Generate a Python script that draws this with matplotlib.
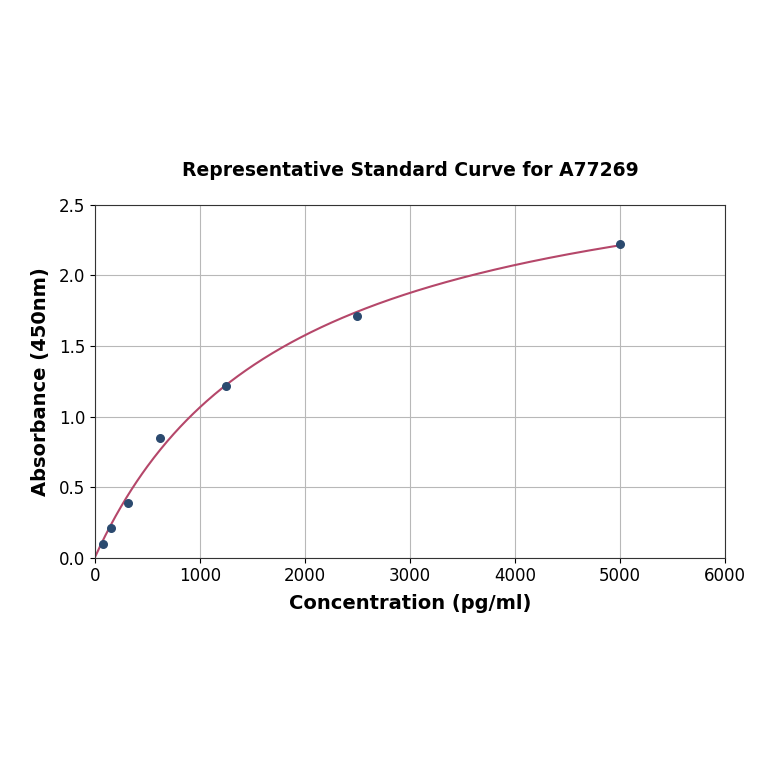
import matplotlib
matplotlib.use('Agg')
import matplotlib.pyplot as plt
import numpy as np

# standard points
conc = [78.125, 156.25, 312.5, 625, 1250, 2500, 5000]
absorb = [0.10, 0.21, 0.385, 0.85, 1.215, 1.715, 2.225]

x = np.array(conc)
y = np.array(absorb)

# fit y = a*x/(b+x): grid over b, a by least squares
best = None
for b in np.linspace(200, 6000, 5801):
    g = x / (b + x)
    a = np.dot(g, y) / np.dot(g, g)
    err = np.sum((y - a * g) ** 2)
    if best is None or err < best[0]:
        best = (err, a, b)
_, a, b = best
xf = np.linspace(0, 5000, 400)
yf = a * xf / (b + xf)

fig = plt.figure(figsize=(7.64, 7.64), dpi=100)
ax = fig.add_axes([0.124, 0.270, 0.825, 0.462])

ax.plot(xf, yf, color='#b5476a', lw=1.5, zorder=2)
ax.scatter(x, y, color='#2b4a6f', s=30, zorder=3)

ax.set_xlim(0, 6000)
ax.set_ylim(0, 2.5)
ax.set_xticks([0, 1000, 2000, 3000, 4000, 5000, 6000])
ax.set_yticks([0, 0.5, 1.0, 1.5, 2.0, 2.5])
ax.grid(True, color='#b8b8b8', lw=0.8)
ax.set_axisbelow(True)
ax.tick_params(labelsize=12)
for s in ax.spines.values():
    s.set_color('#333333')

ax.set_xlabel('Concentration (pg/ml)', fontsize=14, fontweight='bold', labelpad=6)
ax.set_ylabel('Absorbance (450nm)', fontsize=14, fontweight='bold', labelpad=6)
ax.set_title('Representative Standard Curve for A77269', fontsize=13.5, fontweight='bold', pad=21)

fig.savefig('out.png', dpi=100)
